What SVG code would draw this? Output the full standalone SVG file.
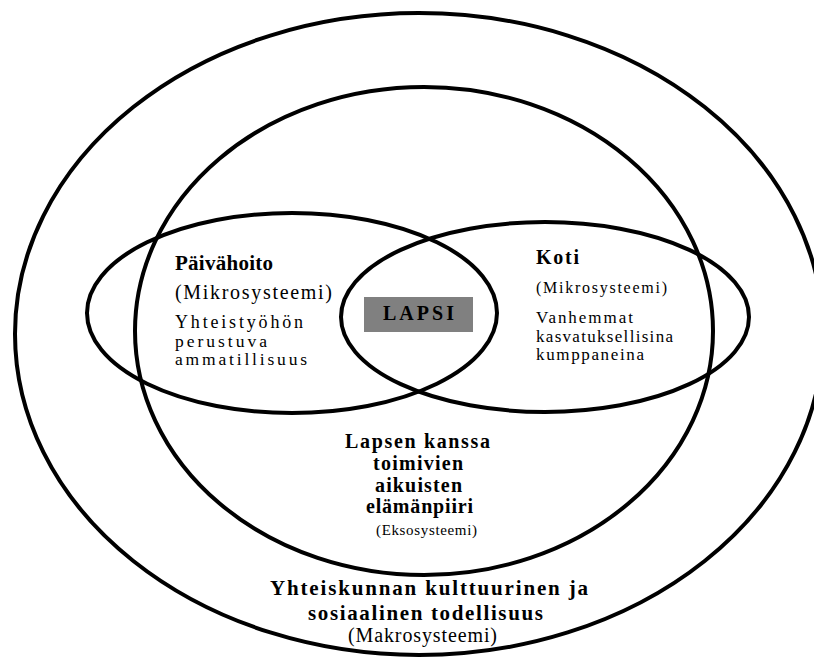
<svg xmlns="http://www.w3.org/2000/svg" width="814" height="659" viewBox="0 0 814 659">
<style>
.ring{fill:none;stroke:#000;stroke-width:4}
text{font-family:"Liberation Serif","Times New Roman",serif;fill:#000}
.b{font-weight:bold}
</style>
<rect width="814" height="659" fill="#fff"/>
<g id="makrosysteemi">
<ellipse class="ring" cx="419" cy="334" rx="404" ry="321"/>
<text class="b" x="270" y="595" font-size="21" textLength="318" lengthAdjust="spacing">Yhteiskunnan kulttuurinen ja</text>
<text class="b" x="308" y="620" font-size="21" textLength="235" lengthAdjust="spacing">sosiaalinen todellisuus</text>
<text x="348" y="642" font-size="20" textLength="149" lengthAdjust="spacing">(Makrosysteemi)</text>
</g>
<g id="eksosysteemi">
<ellipse class="ring" cx="424" cy="331" rx="289" ry="244"/>
<text class="b" x="345" y="448" font-size="20" textLength="145" lengthAdjust="spacing">Lapsen kanssa</text>
<text class="b" x="373" y="470" font-size="20" textLength="90" lengthAdjust="spacing">toimivien</text>
<text class="b" x="375" y="492" font-size="20" textLength="87" lengthAdjust="spacing">aikuisten</text>
<text class="b" x="366" y="513" font-size="20" textLength="107" lengthAdjust="spacing">elämänpiiri</text>
<text x="376" y="535" font-size="15" textLength="101" lengthAdjust="spacing">(Eksosysteemi)</text>
</g>
<g id="paivahoito">
<ellipse class="ring" cx="292" cy="313" rx="205" ry="100"/>
<text class="b" x="175" y="270" font-size="21" textLength="98" lengthAdjust="spacing">Päivähoito</text>
<text x="175" y="299" font-size="20" textLength="157" lengthAdjust="spacing">(Mikrosysteemi)</text>
<text x="175" y="328" font-size="18" textLength="128" lengthAdjust="spacing">Yhteistyöhön</text>
<text x="175" y="346.5" font-size="17.5" textLength="92" lengthAdjust="spacing">perustuva</text>
<text x="175" y="365" font-size="17.5" textLength="132" lengthAdjust="spacing">ammatillisuus</text>
</g>
<g id="koti">
<ellipse class="ring" cx="545" cy="317" rx="204" ry="95"/>
<text class="b" x="536" y="264" font-size="20" textLength="43" lengthAdjust="spacing">Koti</text>
<text x="536" y="293" font-size="16" textLength="131" lengthAdjust="spacing">(Mikrosysteemi)</text>
<text x="536" y="323" font-size="17" textLength="97" lengthAdjust="spacing">Vanhemmat</text>
<text x="536" y="342" font-size="17" textLength="137" lengthAdjust="spacing">kasvatuksellisina</text>
<text x="536" y="360" font-size="17" textLength="108" lengthAdjust="spacing">kumppaneina</text>
</g>
<g id="lapsi">
<rect x="364" y="297" width="109" height="35" fill="#808080"/>
<text class="b" x="383" y="320" font-size="20" textLength="71" lengthAdjust="spacing">LAPSI</text>
</g>
</svg>
